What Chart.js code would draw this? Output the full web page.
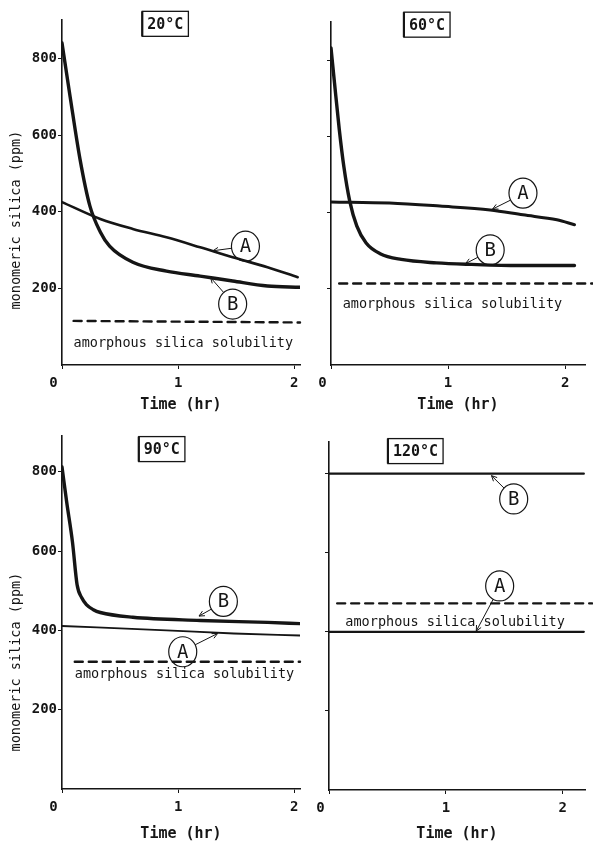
<!DOCTYPE html>
<html>
<head>
<meta charset="utf-8">
<title>Monomeric silica vs time</title>
<script src="https://cdn.jsdelivr.net/npm/chart.js@4.4.1/dist/chart.umd.min.js"></script>
<style>
  html, body { margin: 0; padding: 0; background: #fff; }
  #wrap { position: relative; width: 593px; height: 849px; overflow: hidden; }
  .panel { position: absolute; }
</style>
</head>
<body>
<div id="wrap">
  <div class="panel" style="left:0;top:0;width:305px;height:420px"><canvas id="c20"></canvas></div>
  <div class="panel" style="left:300px;top:0;width:293px;height:420px"><canvas id="c60"></canvas></div>
  <div class="panel" style="left:0;top:420px;width:305px;height:429px"><canvas id="c90"></canvas></div>
  <div class="panel" style="left:300px;top:420px;width:293px;height:429px"><canvas id="c120"></canvas></div>
</div>
<script>
// ---- data: time (hr) and monomeric silica (ppm) ----

// 20 °C
const t20A = [0, 0.33, 0.61, 0.9, 1.19, 1.47, 1.77, 2.03];
const si20A = [425, 381, 355, 333, 307, 281, 255, 229];
const t20B = [0, 0.07, 0.155, 0.24, 0.33, 0.41, 0.61, 0.9, 1.19, 1.47, 1.77, 2.05];
const si20B = [840, 700, 537, 415, 347, 310, 268, 245, 232, 219, 206, 203];
const t20Sol = [0.1, 2.05];
const si20Sol = [115, 111];

// 60 °C
const t60A = [0, 0.5, 0.93, 1.36, 1.64, 1.93, 2.08];
const si60A = [428, 425, 417, 407, 394, 381, 368];
const t60B = [0, 0.03, 0.07, 0.11, 0.16, 0.22, 0.3, 0.42, 0.6, 0.9, 1.2, 1.6, 2.08];
const si60B = [832, 740, 620, 520, 430, 365, 320, 292, 277, 268, 264, 261, 261];
const t60Sol = [0.07, 2.25];
const si60Sol = [214, 214];

// 90 °C
const t90A = [0, 0.9, 1.48, 2.05];
const si90A = [411, 400, 392, 387];
const t90B = [0, 0.04, 0.09, 0.13, 0.17, 0.21, 0.27, 0.33, 0.61, 1.19, 1.77, 2.05];
const si90B = [812, 724, 623, 515, 482, 465, 452, 445, 433, 425, 420, 417];
const t90Sol = [0.11, 2.05];
const si90Sol = [321, 321];

// 120 °C
const t120A = [0, 2.18];
const si120A = [400, 400];
const t120B = [0, 2.18];
const si120B = [800, 800];
const t120Sol = [0.07, 2.25];
const si120Sol = [472, 472];

const yTicks = [200, 400, 600, 800];
const xTicks = [0, 1, 2];

const INK = '#151515';
const MONO = "'DejaVu Sans Mono', 'Liberation Mono', monospace";

function pts(ts, vs) {
    return ts.map((t, i) => ({ x: t, y: vs[i] }));
}

// circled letters, solubility caption, temperature box, y title
const panelNotes = {
    id: 'panelNotes',
    afterDraw(chart, args, opts) {
        const { ctx } = chart;
        const xs = chart.scales.x, ys = chart.scales.y;
        const px = v => xs.getPixelForValue(v);
        const py = v => ys.getPixelForValue(v);
        ctx.save();
        ctx.fillStyle = INK;
        ctx.strokeStyle = INK;

        // temperature box
        ctx.font = `bold 15px ${MONO}`;
        ctx.textAlign = 'center';
        ctx.textBaseline = 'middle';
        const bx = px(opts.title.at[0]), by = py(opts.title.at[1]);
        const bw = ctx.measureText(opts.title.text).width + 10, bh = 25;
        ctx.lineWidth = 1.3;
        ctx.strokeRect(bx - bw / 2, by - bh / 2, bw, bh);
        ctx.lineWidth = 2.2;
        ctx.beginPath();
        ctx.moveTo(bx - bw / 2, by - bh / 2);
        ctx.lineTo(bx - bw / 2, by + bh / 2);
        ctx.stroke();
        ctx.fillText(opts.title.text, bx, by + 1);

        // circled curve labels with arrows
        const rx = 14, ry = 15;
        opts.marks.forEach(m => {
            const cx = px(m.c[0]), cy = py(m.c[1]);
            const tx = px(m.tip[0]), ty = py(m.tip[1]);
            ctx.lineWidth = 1.2;
            ctx.beginPath();
            ctx.ellipse(cx, cy, rx, ry, 0, 0, Math.PI * 2);
            ctx.stroke();
            ctx.font = `19px ${MONO}`;
            ctx.fillText(m.text, cx, cy + 1);

            const ang = Math.atan2(ty - cy, tx - cx);
            const sx = cx + Math.cos(ang) * rx, sy = cy + Math.sin(ang) * ry;
            ctx.lineWidth = 1;
            ctx.beginPath();
            ctx.moveTo(sx, sy);
            ctx.lineTo(tx, ty);
            const back = Math.atan2(sy - ty, sx - tx);
            ctx.moveTo(tx + Math.cos(back + 0.45) * 6, ty + Math.sin(back + 0.45) * 6);
            ctx.lineTo(tx, ty);
            ctx.lineTo(tx + Math.cos(back - 0.45) * 6, ty + Math.sin(back - 0.45) * 6);
            ctx.stroke();
        });

        // solubility caption
        ctx.font = `13.5px ${MONO}`;
        ctx.textAlign = 'left';
        ctx.fillText('amorphous silica solubility', px(opts.sol[0]), py(opts.sol[1]));

        // y title
        if (opts.yTitle) {
            ctx.translate(16, py(opts.yTitle));
            ctx.rotate(-Math.PI / 2);
            ctx.textAlign = 'center';
            ctx.fillText('monomeric silica (ppm)', 0, 0);
        }
        ctx.restore();
    }
};

function makePanel(id, p) {
    const ctx = document.getElementById(id).getContext('2d');
    return new Chart(ctx, {
        type: 'line',
        data: {
            datasets: [
                { data: pts(p.tB, p.siB), borderWidth: p.wB },
                { data: pts(p.tA, p.siA), borderWidth: p.wA },
                { data: pts(p.tSol, p.siSol), borderWidth: 2.4, borderDash: [8, 6], clip: false }
            ].map(d => Object.assign({
                borderColor: INK,
                pointRadius: 0,
                fill: false,
                cubicInterpolationMode: 'monotone',
                borderCapStyle: 'round'
            }, d))
        },
        options: {
            responsive: true,
            maintainAspectRatio: false,
            animation: false,
            events: [],
            layout: { padding: { left: 0, top: p.padTop, right: p.padRight, bottom: 0 } },
            plugins: {
                legend: { display: false },
                tooltip: { enabled: false },
                panelNotes: p.notes
            },
            scales: {
                x: {
                    type: 'linear',
                    min: 0,
                    max: p.xMax,
                    afterFit: s => { s.height = p.xH; },
                    afterBuildTicks: s => { s.ticks = xTicks.map(v => ({ value: v })); },
                    ticks: {
                        includeBounds: false,
                        color: INK,
                        padding: 6,
                        font: { family: MONO, size: 14, weight: 'bold' },
                        callback: v => (v === 0 ? '0  ' : String(v))
                    },
                    grid: { drawOnChartArea: false, drawTicks: true, tickLength: 4, color: INK },
                    border: { display: true, color: INK, width: 1.6 },
                    title: {
                        display: true,
                        text: 'Time (hr)',
                        color: INK,
                        font: { family: MONO, size: 15, weight: 'bold' },
                        padding: { top: 0, bottom: 6 }
                    }
                },
                y: {
                    type: 'linear',
                    min: 0,
                    max: p.yMax,
                    afterFit: s => { s.width = p.yW; },
                    afterBuildTicks: s => { s.ticks = yTicks.map(v => ({ value: v })); },
                    ticks: {
                        display: p.yLabels,
                        includeBounds: false,
                        color: INK,
                        padding: 1,
                        font: { family: MONO, size: 14, weight: 'bold' }
                    },
                    grid: { drawOnChartArea: false, drawTicks: true, tickLength: 4, color: INK },
                    border: { display: true, color: INK, width: 1.6 }
                }
            }
        },
        plugins: [panelNotes]
    });
}

makePanel('c20', {
    tA: t20A, siA: si20A, tB: t20B, siB: si20B, tSol: t20Sol, siSol: si20Sol,
    wA: 2.6, wB: 3.4,
    xMax: 2.05, yMax: 900, yW: 62, xH: 55, padTop: 20, padRight: 5, yLabels: true,
    notes: {
        title: { text: '20°C', at: [0.89, 890] },
        marks: [
            { text: 'A', c: [1.58, 310], tip: [1.3, 298] },
            { text: 'B', c: [1.47, 159], tip: [1.28, 228] }
        ],
        sol: [0.1, 55],
        yTitle: 378
    }
});

makePanel('c60', {
    tA: t60A, siA: si60A, tB: t60B, siB: si60B, tSol: t60Sol, siSol: si60Sol,
    wA: 3, wB: 3.4,
    xMax: 2.17, yMax: 900, yW: 31, xH: 55, padTop: 22, padRight: 8, yLabels: false,
    notes: {
        title: { text: '60°C', at: [0.82, 893] },
        marks: [
            { text: 'A', c: [1.64, 451], tip: [1.38, 409] },
            { text: 'B', c: [1.36, 302], tip: [1.15, 266] }
        ],
        sol: [0.1, 159]
    }
});

makePanel('c90', {
    tA: t90A, siA: si90A, tB: t90B, siB: si90B, tSol: t90Sol, siSol: si90Sol,
    wA: 1.8, wB: 3.4,
    xMax: 2.05, yMax: 890, yW: 62, xH: 60, padTop: 16, padRight: 5, yLabels: true,
    notes: {
        title: { text: '90°C', at: [0.86, 857] },
        marks: [
            { text: 'B', c: [1.39, 473], tip: [1.18, 436] },
            { text: 'A', c: [1.04, 346], tip: [1.34, 392] }
        ],
        sol: [0.11, 288],
        yTitle: 320
    }
});

makePanel('c120', {
    tA: t120A, siA: si120A, tB: t120B, siB: si120B, tSol: t120Sol, siSol: si120Sol,
    wA: 2.2, wB: 2.2,
    xMax: 2.19, yMax: 880, yW: 29, xH: 59, padTop: 22, padRight: 8, yLabels: false,
    notes: {
        title: { text: '120°C', at: [0.74, 857] },
        marks: [
            { text: 'B', c: [1.58, 736], tip: [1.39, 795] },
            { text: 'A', c: [1.46, 516], tip: [1.26, 402] }
        ],
        sol: [0.14, 424]
    }
});
</script>
</body>
</html>
